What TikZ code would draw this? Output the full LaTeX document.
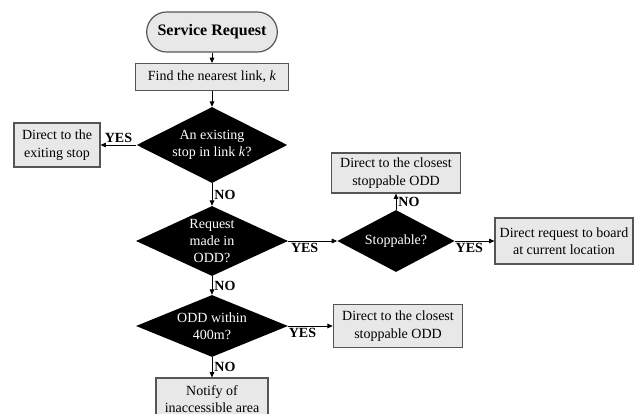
\documentclass[tikz,border=0pt]{standalone}
\usepackage{fontspec}
\setmainfont{Liberation Serif}
\usetikzlibrary{arrows.meta, shapes.geometric}
\definecolor{boxfill}{HTML}{E8E8E8}
\definecolor{boxedge}{HTML}{555555}

\begin{document}
\begin{tikzpicture}[
    x=0.75pt, y=-0.75pt,
    font=\fontsize{10.5}{13}\selectfont,
    box/.style={draw=boxedge, fill=boxfill, line width=0.9pt, align=center, inner sep=1pt},
    term/.style={box, rounded corners=15pt, font=\fontsize{12}{14}\selectfont\bfseries},
    dec/.style={diamond, fill=black, text=white, align=center, inner sep=0pt,
                font=\fontsize{10.5}{12.5}\selectfont},
    ans/.style={font=\fontsize{10.5}{13}\selectfont\bfseries, inner sep=1.5pt},
    ar/.style={-{Triangle[length=4pt, width=3.5pt]}, black, line width=0.6pt}
  ]
    \useasboundingbox (0,0) rectangle (639,414);
    \clip (0,0) rectangle (639,414);
    % main column
    \node[term, minimum width=98pt, minimum height=30pt] (start) at (212,32) {Service Request};
    \node[box, minimum width=115pt, minimum height=20pt] (find) at (212,77) {Find the nearest link, \textit{k}};
    \node[dec, aspect=2, minimum width=113pt, minimum height=57pt] (d1) at (212,145) {An existing\\ stop in link \textit{k}?};
    \node[box, minimum width=64.5pt, minimum height=33pt] (exist) at (57,145) {Direct to the\\ exiting stop};
    \node[dec, aspect=2.17, minimum width=114pt, minimum height=52.5pt] (d2) at (212,241) {Request\\ made in\\ ODD?};
    \node[dec, aspect=2.5, minimum width=114pt, minimum height=46.5pt] (d3) at (212,326) {ODD within\\ 400m?};
    \node[box, minimum width=84pt, minimum height=31.5pt] (notify) at (212,399) {Notify of\\ inaccessible area};
    % ODD branch
    \node[dec, aspect=2, minimum width=88pt, minimum height=46.5pt] (d4) at (396,241) {Stoppable?};
    \node[box, minimum width=97pt, minimum height=30pt] (close1) at (396,173) {Direct to the closest\\ stoppable ODD};
    \node[box, minimum width=103.5pt, minimum height=34.5pt] (board) at (564,241) {Direct request to board\\ at current location};
    \node[box, minimum width=97pt, minimum height=32pt] (close2) at (398,326) {Direct to the closest\\ stoppable ODD};
    % connectors
    \draw[ar] (start) -- (find);
    \draw[ar] (find) -- (d1);
    \draw[ar] (d1) -- node[ans, above] {YES} (exist);
    \draw[ar] (d1) -- node[ans, right] {NO} (d2);
    \draw[ar] (d2) -- node[ans, right] {NO} (d3);
    \draw[ar] (d3) -- node[ans, right] {NO} (notify);
    \draw[ar] (d2) -- node[ans, below, xshift=-6pt] {YES} (d4);
    \draw[ar] (d4) -- node[ans, right] {NO} (close1);
    \draw[ar] (d4) -- node[ans, below, xshift=-4pt] {YES} (board);
    \draw[ar] (d3) -- node[ans, below, xshift=-6pt] {YES} (close2);
  \end{tikzpicture}
\end{document}
